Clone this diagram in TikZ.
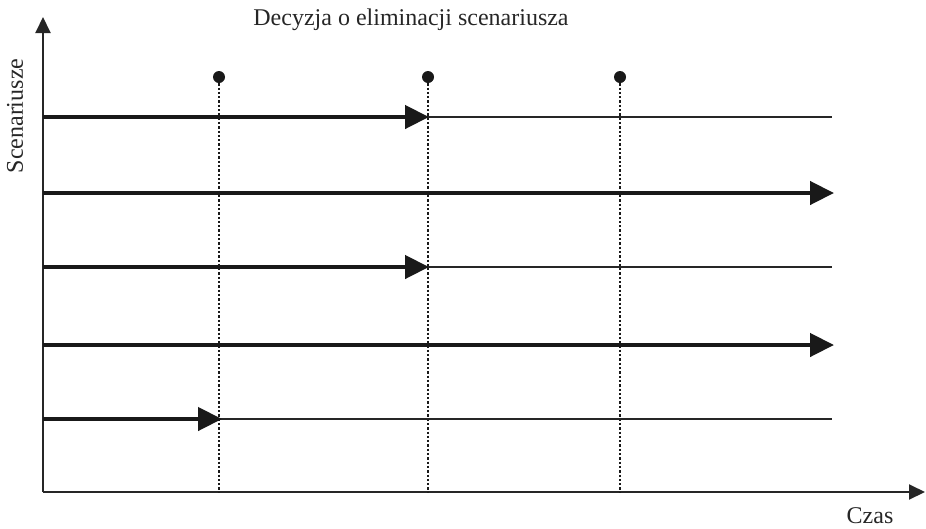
\documentclass[tikz,border=0pt]{standalone}
\usepackage{fontspec}
\setmainfont{Liberation Serif}
\usetikzlibrary{arrows.meta}
\begin{document}
\begin{tikzpicture}[x=1pt,y=-1pt,
  axis/.style={line width=2pt,draw=black!85,-{Triangle[length=16pt,width=15pt]}},
  thinline/.style={line width=1.3pt,draw=black!85},
  scen/.style={line width=4.4pt,draw=black!90,-{Triangle[length=24pt,width=23pt]}},
  decision/.style={line width=2.6pt,draw=black!90,dash pattern=on 2.3pt off 2pt},
  dot/.style={circle,fill=black!90,inner sep=0pt,minimum size=12pt},
  lbl/.style={font=\fontsize{24}{28}\selectfont,text=black!85,inner sep=0pt}
]
\useasboundingbox (0,0) rectangle (926,528);
% axes
\coordinate (O) at (43,492);
\coordinate (Ytop) at (43,17);
\coordinate (Xend) at (925,492);
\draw[axis] (O) -- (Ytop);
\draw[axis] (O) -- (Xend);
% decision lines
\foreach \n/\x in {a/219,b/428,c/620}{
  \node[dot] (d\n) at (\x,77) {};
  \coordinate (b\n) at (\x,492);
  \draw[decision] (d\n.south) -- (b\n);
}
% scenario rows
\foreach \i/\y in {1/117,2/193,3/267,4/345,5/419}{
  \coordinate (s\i) at (43,\y);
  \coordinate (e\i) at (832,\y);
}
\coordinate (t1) at (429,117);
\coordinate (t3) at (429,267);
\coordinate (t5) at (222,419);
\coordinate (t2) at (834,193);
\coordinate (t4) at (834,345);
\draw[thinline] (s1) -- (e1);
\draw[thinline] (s3) -- (e3);
\draw[thinline] (s5) -- (e5);
\draw[scen] (s1) -- (t1);
\draw[scen] (s2) -- (t2);
\draw[scen] (s3) -- (t3);
\draw[scen] (s4) -- (t4);
\draw[scen] (s5) -- (t5);
% labels
\node[lbl,anchor=base] (title) at (411,25) {Decyzja o eliminacji scenariusza};
\node[lbl,rotate=90] (ylab) at (15,116) {Scenariusze};
\node[lbl,anchor=base] (xlab) at (870,523) {Czas};
\end{tikzpicture}
\end{document}
